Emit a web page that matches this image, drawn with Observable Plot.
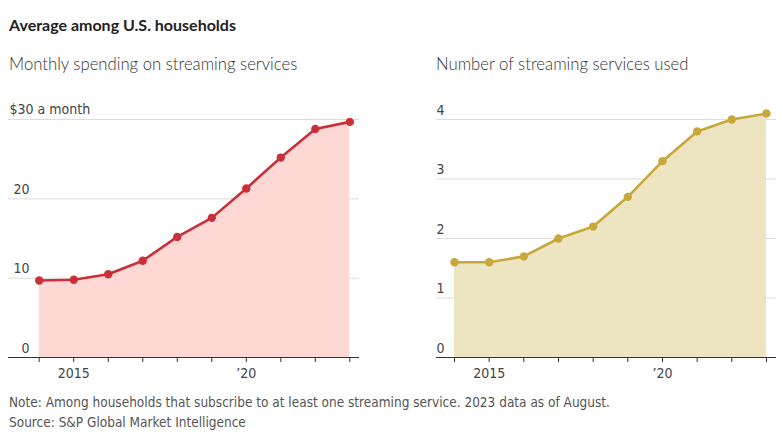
<!DOCTYPE html>
<html>
<head>
<meta charset="utf-8">
<script src="https://cdn.jsdelivr.net/npm/d3@7"></script>
<script src="https://cdn.jsdelivr.net/npm/@observablehq/plot@0.6"></script>
<style>
  html, body { margin: 0; padding: 0; background: #fff; }
  body { width: 783px; height: 442px; position: relative; overflow: hidden; font-family: "DejaVu Sans Condensed", sans-serif; }
  .title { position: absolute; left: 9px; top: 15px; font: bold 16px Lato, "Liberation Sans", sans-serif; color: #222; line-height: 20px; white-space: nowrap; }
  .sub { position: absolute; top: 53px; font: 300 16.7px Lato, "Open Sans", sans-serif; color: #333; line-height: 22px; white-space: nowrap; }
  .plot { position: absolute; top: 90px; }
  .caption { position: absolute; left: 9px; top: 392px; font: 13.5px "DejaVu Sans Condensed", sans-serif; color: #555; line-height: 20px; white-space: nowrap; }
  svg text { font-family: "DejaVu Sans Condensed", sans-serif; }
</style>
</head>
<body>
<div class="title">Average among U.S. households</div>
<div class="sub" style="left:9px">Monthly spending on streaming services</div>
<div class="sub" style="left:436px">Number of streaming services used</div>
<div id="left" class="plot" style="left:0px"></div>
<div id="right" class="plot" style="left:400px"></div>
<div class="caption">Note: Among households that subscribe to at least one streaming service. 2023 data as of August.<br>Source: S&amp;P Global Market Intelligence</div>
<script>
const years = [2014, 2015, 2016, 2017, 2018, 2019, 2020, 2021, 2022, 2023];
const spending = [9.7, 9.8, 10.5, 12.2, 15.2, 17.6, 21.3, 25.2, 28.8, 29.7];
const services = [1.6, 1.6, 1.7, 2.0, 2.2, 2.7, 3.3, 3.8, 4.0, 4.1];
const spendTicks = [0, 10, 20];
const spendTopTick = 30;
const spendTopLabel = "$30 a month";
const serviceTicks = [0, 1, 2, 3, 4];
const xLabelYears = [2015, 2020];
const xLabels = ["2015", "\u201920"];

const spendData = years.map((y, i) => ({year: y, value: spending[i]}));
const serviceData = years.map((y, i) => ({year: y, value: services[i]}));

function panel({data, yDomain, gridTicks, labelTicks, labelFmt, topLabel, width, marginLeft, marginRight, xDomain, line, fill, labelDx}) {
  const marks = [
    Plot.ruleY(gridTicks.filter(d => d !== 0), {stroke: "#dcdcdc", strokeWidth: 1}),
    Plot.areaY(data, {x: "year", y: "value", fill: fill}),
    Plot.ruleY([0], {stroke: "#333", strokeWidth: 1.2}),
    Plot.axisX({ticks: years, tickSize: 5, tickFormat: () => "", stroke: "#333", label: null}),
    Plot.axisX({ticks: xLabelYears, tickSize: 0, tickPadding: 11, tickFormat: d => xLabels[xLabelYears.indexOf(d)], fontSize: 14, fill: "#444", label: null}),
    Plot.text(labelTicks, {y: d => d, text: labelFmt, frameAnchor: "left", textAnchor: "end", dx: labelDx, dy: -5, lineAnchor: "bottom", fontSize: 14, fill: "#444"}),
    Plot.lineY(data, {x: "year", y: "value", stroke: line, strokeWidth: 2.6}),
    Plot.dot(data, {x: "year", y: "value", fill: line, r: 4.2})
  ];
  if (topLabel) {
    marks.push(Plot.text([topLabel.value], {y: d => d, text: () => topLabel.text, frameAnchor: "left", textAnchor: "start", dx: 1, dy: -6, lineAnchor: "bottom", fontSize: 14, fill: "#444"}));
  }
  return Plot.plot({
    width, height: 297,
    marginTop: 29, marginBottom: 30, marginLeft, marginRight,
    x: {type: "linear", domain: xDomain, label: null},
    y: {domain: yDomain, axis: null, label: null},
    style: {background: "transparent", overflow: "visible"},
    marks
  });
}

document.getElementById("left").append(panel({
  data: spendData, yDomain: [0, 30],
  gridTicks: [...spendTicks, spendTopTick], labelTicks: spendTicks, labelFmt: d => String(d),
  topLabel: {value: spendTopTick, text: spendTopLabel},
  width: 390, marginLeft: 8, marginRight: 31, xDomain: [2013.11, 2023.28],
  line: "#c9303a", fill: "#fdd8d4", labelDx: 21
}));
document.getElementById("right").append(panel({
  data: serviceData, yDomain: [0, 4],
  gridTicks: serviceTicks, labelTicks: serviceTicks, labelFmt: d => String(d),
  topLabel: null,
  width: 383, marginLeft: 36, marginRight: 7, xDomain: [2013.48, 2023.29],
  line: "#c8a83a", fill: "#ede4c2", labelDx: 8
}));
</script>
</body>
</html>
